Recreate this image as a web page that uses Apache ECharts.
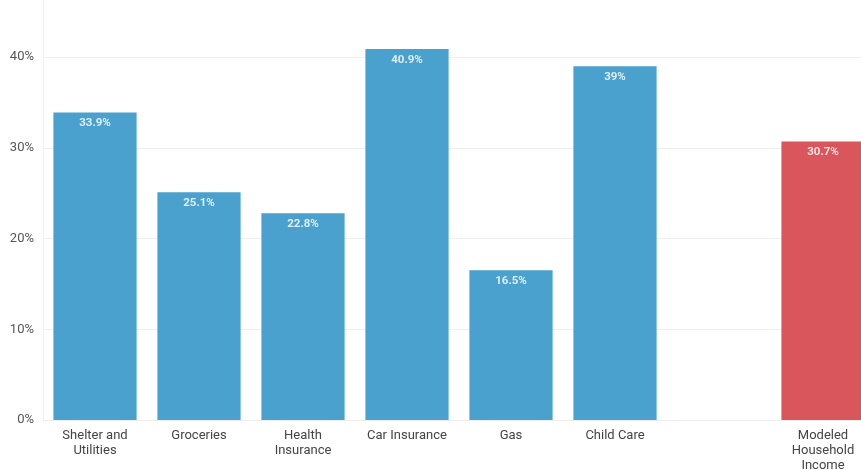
<!DOCTYPE html>
<html><head><meta charset="utf-8">
<script src="https://cdn.jsdelivr.net/npm/echarts@6/dist/echarts.min.js"></script>
<style>html,body{margin:0;padding:0;background:#fff}#c{width:861px;height:470px}</style>
</head><body><div id="c"></div>
<script>
const categories = ["Shelter and\nUtilities","Groceries","Health\nInsurance","Car Insurance","Gas","Child Care","","Modeled\nHousehold\nIncome"];
const values = [33.9, 25.1, 22.8, 40.9, 16.5, 39, null, 30.7];
const highlightIndex = 7;
const yTicks = [0, 10, 20, 30, 40];
const yMax = 46.3;

const chart = echarts.init(document.getElementById('c'), null, {renderer:'canvas'});
chart.setOption({
  animation:false,
  grid:{left:43, top:0, width:832, height:420, containLabel:false, outerBoundsMode:'none'},
  xAxis:{type:'category', data:categories,
    axisLine:{lineStyle:{color:'#eeeeee'}},
    axisTick:{alignWithLabel:true, length:5, lineStyle:{color:'#e6e6e6'}},
    axisLabel:{color:'#444', fontSize:13, fontFamily:'Roboto', lineHeight:15, margin:8, interval:0}
  },
  yAxis:{type:'value', min:yTicks[0], max:yMax, interval:10,
    axisLine:{show:true, lineStyle:{color:'#f0f0f0'}},
    axisTick:{show:false},
    splitLine:{showMaxLine:false, lineStyle:{color:'#efefef'}},
    axisLabel:{color:'#555', fontSize:13, fontFamily:'Roboto', margin:9, showMaxLabel:false,
      formatter:v=>yTicks.indexOf(v)>=0 ? v+'%' : ''}
  },
  series:[{type:'bar', barWidth:'80%',
    data:values.map((v,i)=>({value:v, itemStyle:{color: i===highlightIndex?'#d9575c':'#4aa1cd'}})),
    label:{show:true, position:'insideTop', distance:5, color:'rgba(255,255,255,0.82)', fontSize:11.5, fontWeight:'bold', fontFamily:'Roboto', formatter:p=>p.value+'%'}
  }]
});
</script></body></html>
